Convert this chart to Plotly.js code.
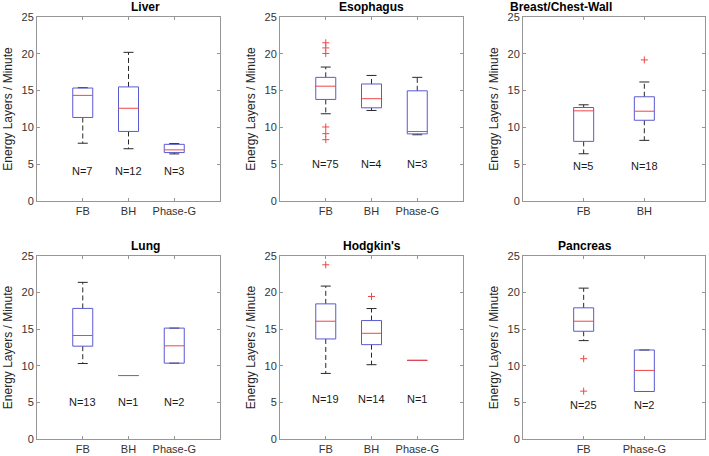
<!DOCTYPE html>
<html>
<head>
<meta charset="utf-8">
<script src="https://cdn.plot.ly/plotly-3.0.1.min.js"></script>
<style>html,body{margin:0;padding:0;background:#fff;}#chart{width:709px;height:456px;}</style>
</head>
<body>
<div id="chart"></div>
<script>
// ---- data ----
const panelTitles = ['Liver', 'Esophagus', 'Breast/Chest-Wall', 'Lung', "Hodgkin's", 'Pancreas'];

const liverCats = ['FB', 'BH', 'Phase-G'];
const liverQ1 = [11.35, 9.45, 6.58];
const liverMed = [14.35, 12.6, 6.95];
const liverQ3 = [15.35, 15.5, 7.7];
const liverLow = [7.85, 7.1, 6.4];
const liverHigh = [15.4, 20.2, 7.8];
const liverN = [7, 12, 3];
const liverOut = [[], [], []];

const esoCats = ['FB', 'BH', 'Phase-G'];
const esoQ1 = [13.8, 12.66, 9.12];
const esoMed = [15.6, 13.9, 9.44];
const esoQ3 = [16.8, 15.9, 14.97];
const esoLow = [11.85, 12.3, 9.0];
const esoHigh = [18.2, 17.06, 16.8];
const esoN = [75, 4, 3];
const esoOut = [[21.5, 20.8, 20.05, 10.06, 9.15, 8.33], [], []];

const breastCats = ['FB', 'BH'];
const breastQ1 = [8.1, 10.97];
const breastMed = [12.25, 12.2];
const breastQ3 = [12.7, 14.16];
const breastLow = [6.42, 8.24];
const breastHigh = [13.07, 16.17];
const breastN = [5, 18];
const breastOut = [[], [19.17]];

const lungCats = ['FB', 'BH', 'Phase-G'];
const lungQ1 = [12.68, 8.67, 10.36];
const lungMed = [14.14, 8.67, 12.73];
const lungQ3 = [17.84, 8.67, 15.15];
const lungLow = [10.31, 8.67, 10.36];
const lungHigh = [21.4, 8.67, 15.15];
const lungN = [13, 1, 2];
const lungOut = [[], [], []];

const hodgCats = ['FB', 'BH', 'Phase-G'];
const hodgQ1 = [13.67, 12.89, 10.74];
const hodgMed = [16.09, 14.44, 10.74];
const hodgQ3 = [18.46, 16.18, 10.74];
const hodgLow = [8.96, 10.15, 10.74];
const hodgHigh = [20.89, 17.82, 10.74];
const hodgN = [19, 14, 1];
const hodgOut = [[23.8], [19.47], []];

const pancCats = ['FB', 'Phase-G'];
const pancQ1 = [14.72, 6.49];
const pancMed = [16.09, 9.37];
const pancQ3 = [17.92, 12.16];
const pancLow = [13.44, 6.49];
const pancHigh = [20.61, 12.16];
const pancN = [25, 2];
const pancOut = [[10.97, 6.54], []];

const yTicks = [0, 5, 10, 15, 20, 25];
const yLabel = 'Energy Layers / Minute';

// ---- layout helpers (positions / styles) ----
const W = 709, H = 456;
const colPx = [[37, 220], [280, 463], [523, 705]];
const rowPx = [[17, 201], [256, 439]];
const nLabelY = [4.1, 5.05, 4.75, 5.1, 5.48, 4.7];

const panels = [
  {cats: liverCats, q1: liverQ1, med: liverMed, q3: liverQ3, lo: liverLow, hi: liverHigh, n: liverN, out: liverOut},
  {cats: esoCats, q1: esoQ1, med: esoMed, q3: esoQ3, lo: esoLow, hi: esoHigh, n: esoN, out: esoOut},
  {cats: breastCats, q1: breastQ1, med: breastMed, q3: breastQ3, lo: breastLow, hi: breastHigh, n: breastN, out: breastOut},
  {cats: lungCats, q1: lungQ1, med: lungMed, q3: lungQ3, lo: lungLow, hi: lungHigh, n: lungN, out: lungOut},
  {cats: hodgCats, q1: hodgQ1, med: hodgMed, q3: hodgQ3, lo: hodgLow, hi: hodgHigh, n: hodgN, out: hodgOut},
  {cats: pancCats, q1: pancQ1, med: pancMed, q3: pancQ3, lo: pancLow, hi: pancHigh, n: pancN, out: pancOut}
];

const FONT = 'Liberation Sans, Arial, Helvetica, sans-serif';
const BOXCOL = 'rgb(90,90,210)';
const MEDCOL = 'rgb(240,70,70)';
const WHISK = 'rgb(40,40,40)';
const AXCOL = 'rgb(150,150,150)';

const traces = [];
const annotations = [];
const layout = {
  width: W, height: H,
  margin: {l: 0, r: 0, t: 0, b: 0},
  paper_bgcolor: '#fff', plot_bgcolor: '#fff',
  showlegend: false,
  font: {family: FONT, size: 11, color: '#262626'}
};

panels.forEach((p, k) => {
  const idx = k + 1;
  const xa = 'x' + (idx === 1 ? '' : idx);
  const ya = 'y' + (idx === 1 ? '' : idx);
  const col = colPx[k % 3], row = rowPx[Math.floor(k / 3)];
  const nc = p.cats.length;
  const pxPerUnit = (col[1] - col[0]) / (nc + 1);
  const bw = 10 / pxPerUnit;   // half box width (~10 px)
  const cw = bw / 2;           // half cap width

  const wx = [], wy = [], cx = [], cy = [], bx = [], by = [], mx = [], my = [], ox = [], oy = [];
  p.cats.forEach((c, i) => {
    const x = i + 1;
    if (p.hi[i] > p.q3[i]) { wx.push(x, x, null); wy.push(p.q3[i], p.hi[i], null); }
    if (p.lo[i] < p.q1[i]) { wx.push(x, x, null); wy.push(p.q1[i], p.lo[i], null); }
    if (p.hi[i] !== p.lo[i]) {
      cx.push(x - cw, x + cw, null, x - cw, x + cw, null);
      cy.push(p.hi[i], p.hi[i], null, p.lo[i], p.lo[i], null);
    }
    bx.push(x - bw, x + bw, x + bw, x - bw, x - bw, null);
    by.push(p.q1[i], p.q1[i], p.q3[i], p.q3[i], p.q1[i], null);
    mx.push(x - bw, x + bw, null);
    my.push(p.med[i], p.med[i], null);
    p.out[i].forEach(v => { ox.push(x); oy.push(v); });
    annotations.push({
      xref: xa, yref: ya, x: x, y: nLabelY[k], text: 'N=' + p.n[i],
      showarrow: false, font: {family: FONT, size: 11, color: '#1a1a1a'}
    });
  });

  const base = {xaxis: xa, yaxis: ya, hoverinfo: 'skip', type: 'scatter'};
  traces.push(Object.assign({}, base, {x: wx, y: wy, mode: 'lines', line: {color: WHISK, width: 1, dash: '5px,3px'}}));
  traces.push(Object.assign({}, base, {x: cx, y: cy, mode: 'lines', line: {color: WHISK, width: 1}}));
  traces.push(Object.assign({}, base, {x: bx, y: by, mode: 'lines', line: {color: BOXCOL, width: 1}}));
  traces.push(Object.assign({}, base, {x: mx, y: my, mode: 'lines', line: {color: MEDCOL, width: 1}}));
  if (ox.length) {
    traces.push(Object.assign({}, base, {x: ox, y: oy, mode: 'markers',
      marker: {symbol: 'cross-thin', size: 5, line: {color: MEDCOL, width: 1}}}));
  }

  const xd = [col[0] / W, col[1] / W];
  const yd = [1 - row[1] / H, 1 - row[0] / H];
  const axCommon = {
    showline: true, linecolor: AXCOL, linewidth: 1, mirror: 'allticks',
    ticks: 'inside', ticklen: 3, tickcolor: AXCOL, showgrid: false, zeroline: false,
    tickfont: {family: FONT, size: 11, color: '#333'}, fixedrange: true
  };
  layout['xaxis' + (idx === 1 ? '' : idx)] = Object.assign({}, axCommon, {
    domain: xd, anchor: ya, range: [0, nc + 1],
    tickmode: 'array', tickvals: p.cats.map((c, i) => i + 1), ticktext: p.cats
  });
  layout['yaxis' + (idx === 1 ? '' : idx)] = Object.assign({}, axCommon, {
    domain: yd, anchor: xa, range: [0, 25],
    tickmode: 'array', tickvals: yTicks, ticktext: yTicks.map(String),
    title: {text: yLabel, font: {family: FONT, size: 12, color: '#262626'}, standoff: 6}
  });
  annotations.push({
    xref: 'paper', yref: 'paper', x: (xd[0] + xd[1]) / 2, y: yd[1],
    yanchor: 'bottom', yshift: 1, text: '<b>' + panelTitles[k] + '</b>',
    showarrow: false, font: {family: FONT, size: 12, color: '#000'}
  });
});

layout.annotations = annotations;
Plotly.newPlot('chart', traces, layout, {staticPlot: true, displayModeBar: false});
</script>
</body>
</html>
